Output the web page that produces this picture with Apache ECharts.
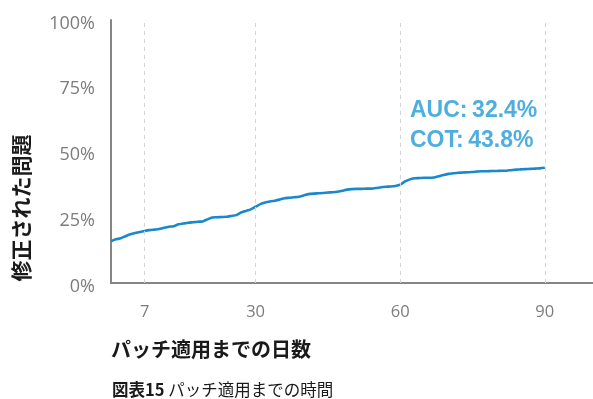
<!DOCTYPE html>
<html>
<head>
<meta charset="utf-8">
<script src="https://cdn.jsdelivr.net/npm/echarts@6/dist/echarts.min.js"></script>
<style>
  html, body { margin: 0; padding: 0; background: #ffffff; }
  #chart { width: 593px; height: 399px; }
</style>
</head>
<body>
<div id="chart"></div>
<script>
// Days since disclosure (0–90)
const days = [
  0, 1, 2, 3, 4, 5, 6, 7, 8, 9,
  10, 11, 12, 13, 14, 15, 16, 17, 18, 19,
  20, 21, 22, 23, 24, 25, 26, 27, 28, 29,
  30, 31, 32, 33, 34, 35, 36, 37, 38, 39,
  40, 41, 42, 43, 44, 45, 46, 47, 48, 49,
  50, 51, 52, 53, 54, 55, 56, 57, 58, 59,
  60, 61, 62, 63, 64, 65, 66, 67, 68, 69,
  70, 71, 72, 73, 74, 75, 76, 77, 78, 79,
  80, 81, 82, 83, 84, 85, 86, 87, 88, 89, 90
];

// Cumulative share of remediated issues (%)
const remediated = [
  15.9, 16.6, 17.0, 17.8, 18.5, 19.0, 19.4, 19.8, 20.1, 20.3,
  20.5, 21.0, 21.4, 21.6, 22.3, 22.6, 22.9, 23.1, 23.3, 23.4,
  24.2, 24.9, 25.0, 25.1, 25.2, 25.5, 25.8, 26.8, 27.4, 28.0,
  29.0, 30.0, 30.6, 31.0, 31.3, 31.7, 32.2, 32.4, 32.6, 32.8,
  33.3, 33.8, 34.0, 34.1, 34.2, 34.4, 34.5, 34.7, 35.1, 35.5,
  35.7, 35.8, 35.8, 35.9, 35.9, 36.1, 36.4, 36.6, 36.7, 36.9,
  37.4, 38.6, 39.4, 39.8, 39.9, 40.0, 40.0, 40.1, 40.6, 41.1,
  41.5, 41.7, 41.9, 42.0, 42.1, 42.2, 42.4, 42.5, 42.5, 42.6,
  42.6, 42.7, 42.7, 42.9, 43.1, 43.2, 43.3, 43.4, 43.5, 43.6, 43.8
];

// Milestone days shown as ticks and dashed guides
const milestoneDays = [7, 30, 60, 90];

// Summary metrics
const aucValue = 32.4;
const cotValue = 43.8;

const yTicks = [0, 25, 50, 75, 100];

const seriesData = days.map((d, i) => [d, remediated[i]]);

const chart = echarts.init(document.getElementById('chart'), null, { renderer: 'canvas' });

const axisGray = '#858585';
const labelGray = '#7c7c7c';
const numFont = '"Open Sans", "Noto Sans", sans-serif';
const cjkFont = '"Noto Sans CJK JP", "Noto Sans CJK SC", sans-serif';

chart.setOption({
  animation: false,
  backgroundColor: '#ffffff',
  grid: { left: 111, top: 20, width: 484, bottom: 116, containLabel: false },
  xAxis: {
    type: 'value',
    min: 0,
    max: 100,
    axisLine: { show: true, lineStyle: { color: axisGray, width: 2 } },
    axisTick: { show: false },
    splitLine: { show: false },
    axisLabel: {
      customValues: milestoneDays,
      color: labelGray,
      fontFamily: numFont,
      fontSize: 16.5,
      margin: 21
    }
  },
  yAxis: {
    type: 'value',
    min: yTicks[0],
    max: yTicks[yTicks.length - 1],
    interval: 25,
    axisLine: { show: true, lineStyle: { color: axisGray, width: 2 } },
    axisTick: { show: false },
    splitLine: { show: false },
    axisLabel: {
      formatter: '{v|{value}%}',
      margin: 16,
      rich: {
        v: {
          color: labelGray,
          fontFamily: numFont,
          fontSize: 18,
          padding: [7, 0, 0, 0]
        }
      }
    }
  },
  series: [{
    type: 'line',
    data: seriesData,
    showSymbol: false,
    smooth: 0.2,
    lineStyle: { color: '#1a88cc', width: 2.6 },
    markLine: {
      silent: true,
      symbol: ['none', 'none'],
      label: { show: false },
      lineStyle: { color: '#d4d4d4', type: [4, 4], width: 1 },
      data: milestoneDays.map(d => ({ xAxis: d }))
    },
    z: 3
  }],
  graphic: [
    {
      type: 'text',
      left: 410,
      top: 99,
      style: {
        text: 'AUC:' + '\u2009' + aucValue.toFixed(1) + '%',
        fill: '#4eaee0',
        font: 'bold 23px "Liberation Sans", Arial, sans-serif'
      }
    },
    {
      type: 'text',
      left: 410,
      top: 129,
      style: {
        text: 'COT:' + '\u2009' + cotValue.toFixed(1) + '%',
        fill: '#4eaee0',
        font: 'bold 23px "Liberation Sans", Arial, sans-serif'
      }
    },
    {
      type: 'text',
      x: 21,
      y: 208,
      rotation: Math.PI / 2,
      style: {
        text: '修正された問題',
        fill: '#1a1a1a',
        font: 'bold 21px ' + cjkFont,
        align: 'center',
        verticalAlign: 'middle'
      }
    },
    {
      type: 'text',
      left: 111,
      top: 339,
      style: {
        text: 'パッチ適用までの日数',
        fill: '#1a1a1a',
        font: 'bold 20px ' + cjkFont
      }
    },
    {
      type: 'text',
      left: 112,
      top: 381,
      style: {
        text: '{b|図表15} {r|パッチ適用までの時間}',
        rich: {
          b: { fill: '#1a1a1a', fontWeight: 'bold', fontSize: 16.5, fontFamily: cjkFont },
          r: { fill: '#1a1a1a', fontSize: 16.5, fontFamily: cjkFont }
        },
        font: '16.5px ' + cjkFont
      }
    }
  ]
});
</script>
</body>
</html>
